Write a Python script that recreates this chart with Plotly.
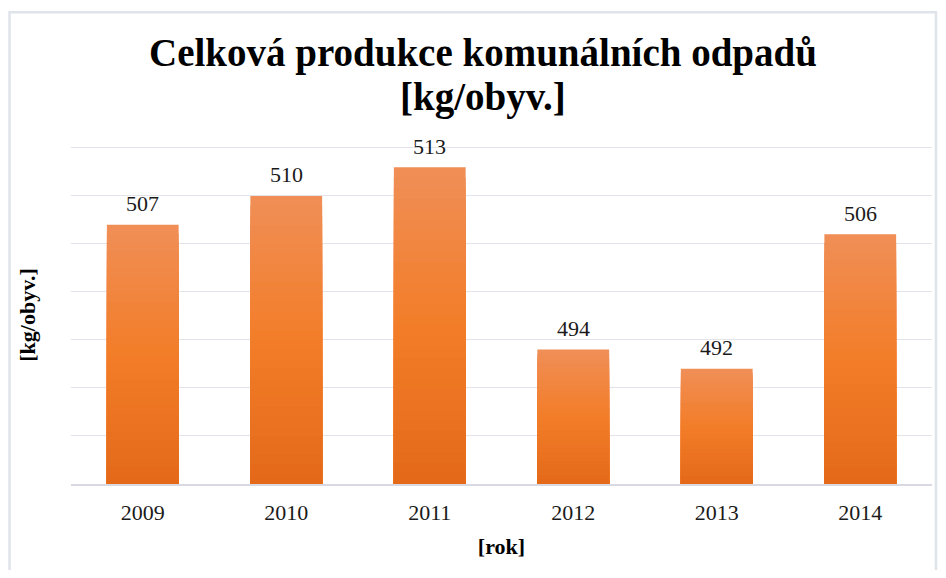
import plotly.graph_objects as go

# data
years = ["2009", "2010", "2011", "2012", "2013", "2014"]
produkce = [507, 510, 513, 494, 492, 506]
title_lines = ["Celková produkce komunálních odpadů", "[kg/obyv.]"]

y_min = 480
y_max = 515

# gradient colours for the bars (top -> bottom)
top_rgb = (240, 142, 86)
mid_rgb = (242, 125, 40)
bot_rgb = (228, 106, 26)

SERIF = "Liberation Serif, Times New Roman, serif"


def blend(t):
    # t = 0 at top of bar, 1 at bottom
    if t < 0.5:
        a, b, k = top_rgb, mid_rgb, t / 0.5
    else:
        a, b, k = mid_rgb, bot_rgb, (t - 0.5) / 0.5
    return "rgb(%d,%d,%d)" % tuple(round(a[i] + (b[i] - a[i]) * k) for i in range(3))


fig = go.Figure()

# stack shrinking bars on top of each other to fake Excel's vertical gradient
steps = 30
for k in range(steps):
    frac = 1 - k / steps
    fig.add_trace(go.Bar(
        x=years,
        y=[(v - y_min) * frac for v in produkce],
        base=y_min,
        marker=dict(color=blend(k / (steps - 1)), line=dict(width=0)),
        hoverinfo="skip" if k else None,
        showlegend=False,
    ))

# value labels above the bars (category index, since "2009" would be read as index 2009)
for i, v in enumerate(produkce):
    fig.add_annotation(x=i, y=v, text=str(v), showarrow=False,
                       yanchor="middle", yshift=21,
                       font=dict(family=SERIF, size=22, color="#1a1a1a"))

# two-line title, placed by hand for tighter line spacing
for i, line in enumerate(title_lines):
    fig.add_annotation(xref="paper", yref="paper", x=0.479, y=[1.275, 1.145][i],
                       text="<b>%s</b>" % line, showarrow=False,
                       xanchor="center", yanchor="middle",
                       font=dict(family=SERIF, size=39, color="black"))

# page body has an 8px margin, so the figure is 16px smaller than the window
fig.update_layout(
    width=930, height=562,
    margin=dict(l=63, r=6, t=138, b=86),
    paper_bgcolor="white", plot_bgcolor="white",
    barmode="overlay", bargap=0.5,
    font=dict(family=SERIF, color="#1a1a1a"),
)

fig.update_xaxes(
    type="category", range=[-0.5, len(years) - 0.5],
    showgrid=False, showline=True, linecolor="#d9d9e3", linewidth=1.5,
    ticks="", ticklabelstandoff=8, tickfont=dict(family=SERIF, size=22, color="#1a1a1a"),
    title=dict(text="<b>[rok]</b>", font=dict(family=SERIF, size=22, color="black"), standoff=14),
)
# a little headroom so the top gridline isn't clipped at the edge
fig.update_yaxes(
    range=[y_min, y_max + 0.2], dtick=5, showticklabels=False,
    showgrid=True, gridcolor="#e3e3ea", gridwidth=1, zeroline=False,
    title=dict(text="<b>[kg/obyv.]</b>", font=dict(family=SERIF, size=22, color="black"), standoff=28),
)

# light frame around the whole chart
fig.add_shape(type="rect", xref="paper", yref="paper",
              x0=-0.0714, x1=1.0046, y0=-0.272, y1=1.396,
              line=dict(color="#dfe3ea", width=2.5), fillcolor="rgba(0,0,0,0)", layer="below")

fig.write_html("out.html")
